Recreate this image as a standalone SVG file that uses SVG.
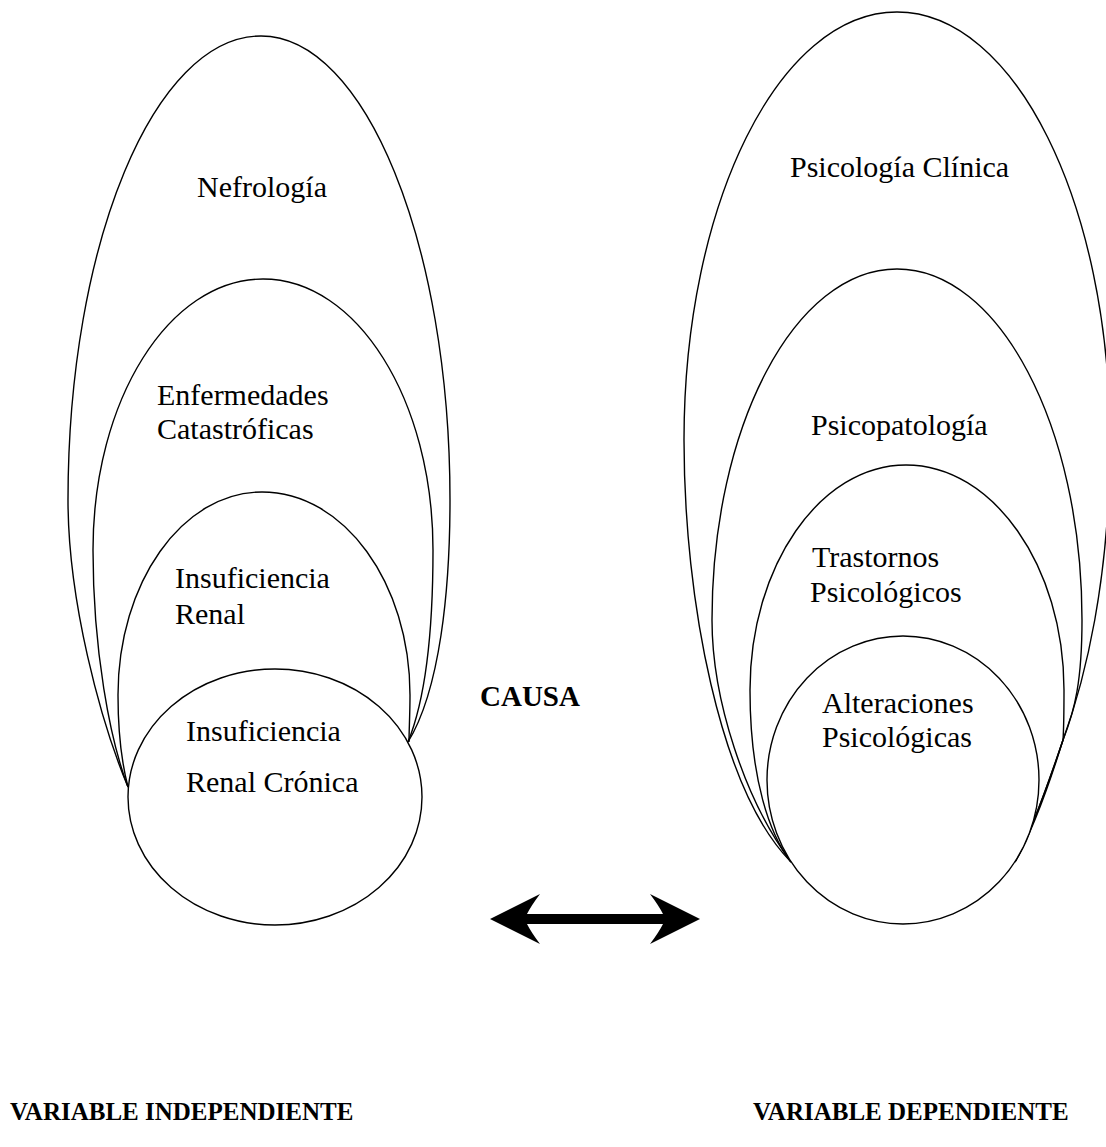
<svg xmlns="http://www.w3.org/2000/svg" width="1106" height="1147" viewBox="0 0 1106 1147">
<style>
.shape{fill:none;stroke:#000;stroke-width:1.4}
.circ{fill:#fff;stroke:#000;stroke-width:1.4}
.lbl{font-family:"Liberation Serif","Times New Roman",serif;font-size:30px;fill:#000}
.bold{font-family:"Liberation Serif","Times New Roman",serif;font-weight:bold;fill:#000}
</style>
<defs>
<marker id="head" viewBox="0 0 50 50" refX="18" refY="25" markerWidth="50" markerHeight="50" markerUnits="userSpaceOnUse" orient="auto-start-reverse">
<path d="M50,25 L0,0 Q9,12 13,20 L13,30 Q9,38 0,50 Z" fill="#000"/>
</marker>
</defs>
<rect width="1106" height="1147" fill="#fff"/>

<g id="nefrologia">
<path class="shape" d="M128,787 C100,720 68,600 68,500 C68,244 154,36 261,36 C365,36 450,244 450,500 C450,590 440,690 408,742"/>
<text class="lbl" x="197" y="197">Nefrología</text>
</g>
<g id="enfermedades-catastroficas">
<path class="shape" d="M128,787 C110,740 93,650 93,550 C93,400 169,279 263,279 C357,279 433,400 433,550 C433,640 425,700 408,742"/>
<text class="lbl" x="157" y="405">Enfermedades</text>
<text class="lbl" x="157" y="439">Catastróficas</text>
</g>
<g id="insuficiencia-renal">
<path class="shape" d="M128,787 C121,760 118,730 118,695 C118,583 182,492 262,492 C344,492 410,583 410,695 C410,715 409,730 409,742"/>
<text class="lbl" x="175" y="588">Insuficiencia</text>
<text class="lbl" x="175" y="624">Renal</text>
</g>
<g id="insuficiencia-renal-cronica">
<ellipse class="circ" cx="275" cy="797" rx="147" ry="128"/>
<text class="lbl" x="186" y="741">Insuficiencia</text>
<text class="lbl" x="186" y="792">Renal Crónica</text>
</g>

<g id="psicologia-clinica">
<path class="shape" d="M791,862 C720,790 684,600 684,440 C684,204 779,12 897,12 C1015,12 1110,204 1110,440 C1110,580 1085,680 1063,740 C1046,790 1030,835 1015,862"/>
<text class="lbl" x="790" y="177">Psicología Clínica</text>
</g>
<g id="psicopatologia">
<path class="shape" d="M791,862 C745,800 712,700 712,620 C712,426 795,269 897,269 C999,269 1082,426 1082,620 C1082,680 1075,710 1063,740 C1050,782 1034,828 1015,862"/>
<text class="lbl" x="811" y="435">Psicopatología</text>
</g>
<g id="trastornos-psicologicos">
<path class="shape" d="M791,862 C770,835 750,780 750,690 C750,566 820,465 906,465 C993,465 1064,566 1064,690 C1064,710 1064,725 1063,740 C1048,785 1032,830 1015,862"/>
<text class="lbl" x="812" y="567">Trastornos</text>
<text class="lbl" x="810" y="602">Psicológicos</text>
</g>
<g id="alteraciones-psicologicas">
<ellipse class="circ" cx="903" cy="780" rx="136" ry="144"/>
<text class="lbl" x="822" y="713">Alteraciones</text>
<text class="lbl" x="822" y="747">Psicológicas</text>
</g>

<g id="causa">
<text class="bold" x="480" y="706" font-size="29">CAUSA</text>
</g>

<g id="connectors">
<line x1="522" y1="919" x2="668" y2="919" stroke="#000" stroke-width="10" marker-start="url(#head)" marker-end="url(#head)"/>
</g>

<g id="variable-independiente">
<text class="bold" x="10" y="1120" font-size="25">VARIABLE INDEPENDIENTE</text>
</g>
<g id="variable-dependiente">
<text class="bold" x="753" y="1120" font-size="25">VARIABLE DEPENDIENTE</text>
</g>
</svg>
